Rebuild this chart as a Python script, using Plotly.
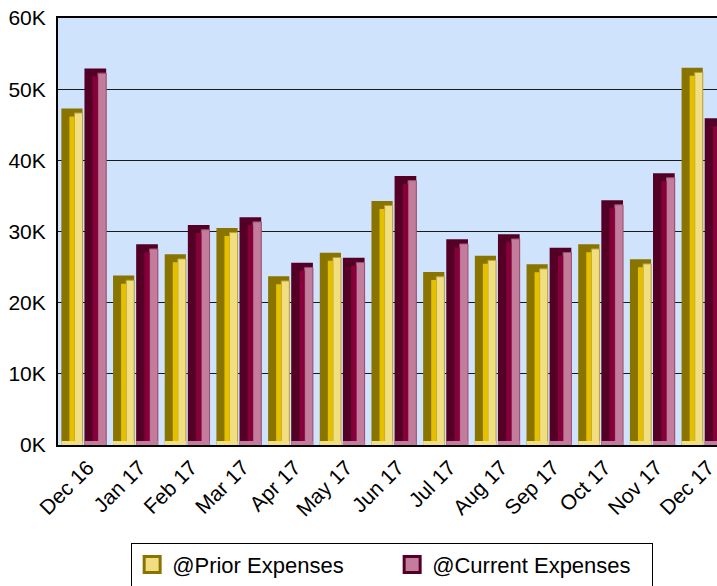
import plotly.graph_objects as go

months = ["Dec 16", "Jan 17", "Feb 17", "Mar 17", "Apr 17", "May 17", "Jun 17",
          "Jul 17", "Aug 17", "Sep 17", "Oct 17", "Nov 17", "Dec 17"]
prior = [47300, 23800, 26800, 30500, 23700, 27000, 34300,
         24300, 26600, 25400, 28200, 26100, 53000]
current = [52900, 28200, 30900, 32000, 25600, 26300, 37800,
           28900, 29600, 27700, 34400, 38200, 45900]
y_tick_vals = [0, 10000, 20000, 30000, 40000, 50000, 60000]
y_tick_text = ["0K", "10K", "20K", "30K", "40K", "50K", "60K"]

FONT = "Liberation Sans, Arial, sans-serif"
TOP_BEVEL = 1125     # value-units of the dark top bevel
RIGHT_BEVEL = 650
BOTTOM_BEVEL = 560

x = list(range(len(months)))

series = [
    dict(name="@Prior Expenses", vals=prior, offset=-0.435, width=0.41,
         dark="#8A7400", mid="#E4C000", light="#F0DE80", line="#B8A040"),
    dict(name="@Current Expenses", vals=current, offset=0.012, width=0.42,
         dark="#540026", mid="#86003A", light="#C47C9C", line="#9A5070"),
]

fig = go.Figure()
for s in series:
    o, w = s["offset"], s["width"]
    n = len(s["vals"])
    fig.add_trace(go.Bar(x=x, y=s["vals"], offset=o, width=w, name=s["name"],
                         marker=dict(color=s["dark"], line=dict(width=0)),
                         showlegend=False))
    fig.add_trace(go.Bar(x=x, y=[v - RIGHT_BEVEL for v in s["vals"]],
                         offset=o + w * 0.62, width=w * 0.38,
                         marker=dict(color=s["light"], line=dict(width=1, color=s["line"])),
                         showlegend=False, hoverinfo="skip"))
    fig.add_trace(go.Bar(x=x, y=[v - TOP_BEVEL for v in s["vals"]],
                         offset=o + w * 0.38, width=w * 0.24,
                         marker=dict(color=s["mid"], line=dict(width=0)),
                         showlegend=False, hoverinfo="skip"))
    fig.add_trace(go.Bar(x=x, y=[BOTTOM_BEVEL] * n, offset=o, width=w,
                         marker=dict(color=s["light"], line=dict(width=0)),
                         showlegend=False, hoverinfo="skip"))

# legend entries
for s in series:
    fig.add_trace(go.Scatter(x=[None], y=[None], mode="markers", name=s["name"],
                             marker=dict(symbol="square", size=19, color=s["light"],
                                         line=dict(width=3, color=s["dark"])),
                             showlegend=True))

fig.update_layout(
    width=717, height=586,
    barmode="overlay",
    paper_bgcolor="white",
    plot_bgcolor="#D0E3FC",
    margin=dict(l=58, r=0, t=18, b=141, autoexpand=False),
    font=dict(family=FONT, size=21, color="black"),
    showlegend=True,
    legend=dict(orientation="h", x=0.111, xanchor="left", y=-0.229, yanchor="top",
                bordercolor="black", borderwidth=1, bgcolor="white",
                font=dict(size=22, family=FONT), entrywidth=215, entrywidthmode="pixels",
                itemsizing="trace", traceorder="normal"),
    xaxis=dict(range=[-0.5, 12.25], tickmode="array", tickvals=x, ticktext=months,
               tickangle=-45, showgrid=False, showline=True, linecolor="black",
               linewidth=2, mirror=True, ticks="", zeroline=False, automargin=False,
               tickfont=dict(size=21, family=FONT), ticklabelshift=4,
               ticklabeloverflow="allow"),
    yaxis=dict(range=[0, 60000], tickmode="array", tickvals=y_tick_vals,
               ticktext=y_tick_text, showgrid=True, gridcolor="#1a1a1a", gridwidth=1,
               showline=True, linecolor="black", linewidth=2, ticks="", zeroline=False,
               automargin=False, tickfont=dict(size=21, family=FONT), ticklabelstandoff=6),
)

fig.write_html("out.html", config={"displayModeBar": False},
               post_script="document.body.style.margin='0';document.body.style.overflow='hidden';")
